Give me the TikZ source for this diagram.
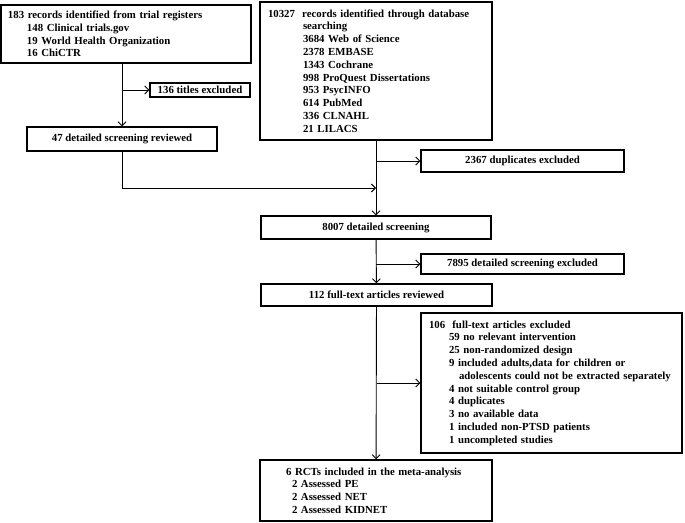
\documentclass[tikz,border=0pt]{standalone}
\usepackage{fontspec}
\setmainfont{Liberation Serif}
\usetikzlibrary{arrows.meta}

\begin{document}
\begin{tikzpicture}[x=1pt,y=-1pt, >={Straight Barb[length=4pt,width=8pt]}]

      \useasboundingbox (0,0) rectangle (685,522);

      \begin{scope}[every node/.style={rectangle, draw, line width=1.4pt, inner sep=0pt,
          font=\fontsize{10.8}{12.8}\selectfont\bfseries}]
        \node (1)  at (126,34)    [minimum width=250, minimum height=58, text width=236, align=left]
          {183 records identified from trial registers\\
           \hspace*{19pt}148 Clinical trials.gov\\
           \hspace*{19pt}19 World Health Organization\\
           \hspace*{19pt}16 ChiCTR};
        \node (2)  at (376,71)    [minimum width=232, minimum height=138, text width=216, align=left]
          {10327\ \ records identified through database\\
           \hspace*{35pt}searching\\
           \hspace*{35pt}3684 Web of Science\\
           \hspace*{35pt}2378 EMBASE\\
           \hspace*{35pt}1343 Cochrane\\
           \hspace*{35pt}998 ProQuest Dissertations\\
           \hspace*{35pt}953 PsycINFO\\
           \hspace*{35pt}614 PubMed\\
           \hspace*{35pt}336 CLNAHL\\
           \hspace*{35pt}21 LILACS};
        \node (3)  at (200,90)    [minimum width=100, minimum height=14] {136 titles excluded};
        \node (4)  at (122,139)   [minimum width=190, minimum height=24] {47 detailed screening reviewed};
        \node (5)  at (522.5,161) [minimum width=203, minimum height=22] {2367 duplicates excluded};
        \node (6)  at (376,227.5) [minimum width=230, minimum height=23] {8007 detailed screening};
        \node (7)  at (522.5,264) [minimum width=203, minimum height=20] {7895 detailed screening excluded};
        \node (8)  at (376.5,295) [minimum width=231, minimum height=22] {112 full-text articles reviewed};
        \node (9)  at (551.5,383) [minimum width=261, minimum height=140, text width=245, align=left]
          {106\ \ full-text articles excluded\\
           \hspace*{20pt}59 no relevant intervention\\
           \hspace*{20pt}25 non-randomized design\\
           \hspace*{20pt}9 included adults,data for children or\\
           \hspace*{30pt}adolescents could not be extracted separately\\
           \hspace*{20pt}4 not suitable control group\\
           \hspace*{20pt}4 duplicates\\
           \hspace*{20pt}3 no available data\\
           \hspace*{20pt}1 included non-PTSD patients\\
           \hspace*{20pt}1 uncompleted studies};
        \node (10) at (376,490.5) [minimum width=232, minimum height=61, text width=216, align=left]
          {\hspace*{18pt}6 RCTs included in the meta-analysis\\
           \hspace*{24pt}2 Assessed PE\\
           \hspace*{24pt}2 Assessed NET\\
           \hspace*{24pt}2 Assessed KIDNET};
      \end{scope}

      \coordinate (j) at (376,188);

      \begin{scope}[line width=.9pt]

        \begin{scope}[every edge/.style={draw, ->}]
          \path (1.south -| 4.north)  edge (4.north);
          \path (3.west -| 4.north)   edge (3.west);
          \path (2)                   edge (6);
          \path (5.west -| 2.south)   edge (5.west);
          \path (6)                   edge (8);
          \path (7.west -| 6.south)   edge (7.west);
          \path (8)                   edge (10);
          \path (9.west -| 8.south)   edge (9.west);
        \end{scope}

        \draw[->] (4.south) |- (j);
      \end{scope}

    \end{tikzpicture}
\end{document}
